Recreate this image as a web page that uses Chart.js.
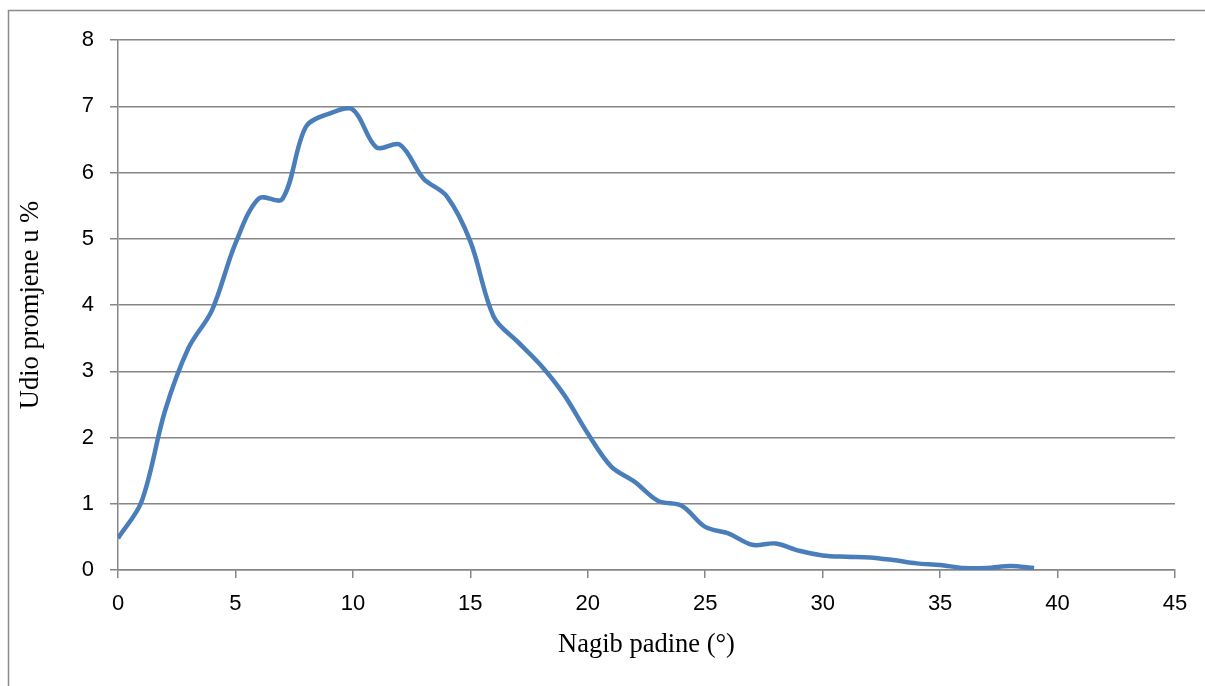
<!DOCTYPE html>
<html>
<head>
<meta charset="utf-8">
<title>Nagib padine</title>
<script src="https://cdn.jsdelivr.net/npm/chart.js@4.4.1/dist/chart.umd.min.js"></script>
<style>
  html, body { margin: 0; padding: 0; background: #fff; }
  canvas { display: block; }
</style>
</head>
<body>
<canvas id="slopeChart" width="1205" height="686"></canvas>
<script>
// Slope (degrees) and share of change (%)
const slopeDeg = [0, 1, 2, 3, 4, 5, 6, 7, 8, 9,
  10, 11, 12, 13, 14, 15, 16, 17, 18, 19,
  20, 21, 22, 23, 24, 25, 26, 27, 28, 29,
  30, 31, 32, 33, 34, 35, 36, 37, 38, 39];
const sharePct = [0.48, 1.03, 2.4, 3.35, 3.92, 4.93, 5.61, 5.6, 6.69, 6.89,
  6.95, 6.38, 6.42, 5.91, 5.64, 4.96, 3.82, 3.45, 3.09, 2.64,
  2.06, 1.56, 1.33, 1.04, 0.97, 0.65, 0.55, 0.38, 0.4, 0.29,
  0.22, 0.2, 0.19, 0.15, 0.1, 0.075, 0.03, 0.03, 0.06, 0.03];
const xTicks = [0, 5, 10, 15, 20, 25, 30, 35, 40, 45];
const yTicks = [0, 1, 2, 3, 4, 5, 6, 7, 8];

const gridGray = '#868686';
const tickFont = { family: "'Liberation Sans', Arial, sans-serif", size: 22 };
const titleFont = { family: "'Liberation Serif', 'Times New Roman', serif", size: 26.5 };

// Outer frame of the chart object (left and top edges only are visible)
const framePlugin = {
  id: 'frame',
  beforeDraw(chart) {
    const ctx = chart.ctx;
    ctx.save();
    ctx.fillStyle = '#fff';
    ctx.fillRect(0, 0, chart.width, chart.height);
    ctx.strokeStyle = '#8a8a8a';
    ctx.lineWidth = 1.5;
    ctx.beginPath();
    ctx.moveTo(8.5, chart.height);
    ctx.lineTo(8.5, 10.5);
    ctx.lineTo(chart.width, 10.5);
    ctx.stroke();
    ctx.restore();
  }
};

const points = slopeDeg.map((x, i) => ({ x, y: sharePct[i] }));

new Chart(document.getElementById('slopeChart'), {
  type: 'line',
  data: {
    datasets: [{
      data: points,
      borderColor: '#4a7ebb',
      borderWidth: 4.5,
      pointRadius: 0,
      tension: 0.33,
      fill: false
    }]
  },
  options: {
    responsive: false,
    animation: false,
    devicePixelRatio: 1,
    layout: { padding: { top: 40, right: 30, bottom: 0, left: 0 } },
    plugins: {
      legend: { display: false },
      tooltip: { enabled: false }
    },
    scales: {
      x: {
        type: 'linear',
        min: 0,
        max: 45,
        afterBuildTicks: (scale) => { scale.ticks = xTicks.map(v => ({ value: v })); },
        afterFit: (scale) => { scale.height = 116; },
        border: { color: gridGray, width: 1.5 },
        grid: { drawOnChartArea: false, drawTicks: true, tickLength: 8, color: gridGray, lineWidth: 1.5 },
        ticks: { color: '#000', font: tickFont, padding: 13, maxRotation: 0 },
        title: {
          display: true,
          text: 'Nagib padine (°)',
          color: '#000',
          font: titleFont,
          padding: { top: 0, bottom: 25 }
        }
      },
      y: {
        min: 0,
        max: 8,
        afterBuildTicks: (scale) => { scale.ticks = yTicks.map(v => ({ value: v })); },
        afterFit: (scale) => { scale.width = 118; },
        border: { color: gridGray, width: 1.5 },
        grid: { color: gridGray, lineWidth: 1.5, tickLength: 8 },
        ticks: { color: '#000', font: tickFont, padding: 16 },
        title: {
          display: true,
          text: 'Udio promjene u %',
          color: '#000',
          font: titleFont,
          padding: { top: 15, bottom: 0 }
        }
      }
    }
  },
  plugins: [framePlugin]
});
</script>
</body>
</html>
